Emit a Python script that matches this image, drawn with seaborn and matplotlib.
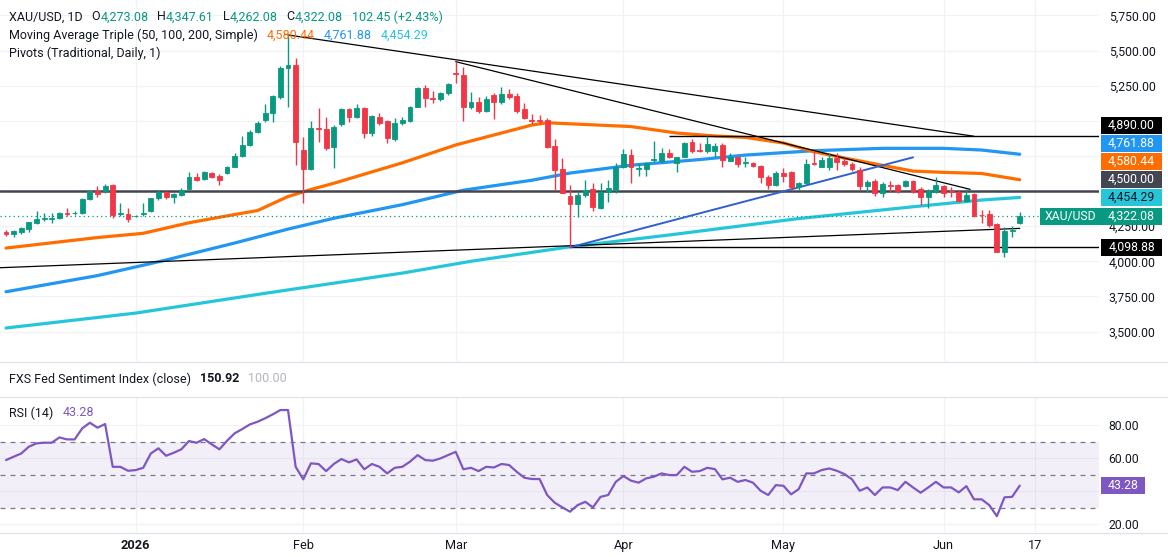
import numpy as np
import matplotlib
matplotlib.use("Agg")
import matplotlib.pyplot as plt
import matplotlib.transforms as mtransforms
from matplotlib.patches import Rectangle
from matplotlib.lines import Line2D
import seaborn as sns

# ---------------- data ----------------
# daily candles XAU/USD (bar 0 .. 133)
opens = [4206, 4194, 4210, 4229, 4274, 4301, 4303, 4306, 4343, 4341,
         4341, 4441, 4498, 4498, 4543, 4334, 4338, 4320, 4334, 4358,
         4448, 4493, 4459, 4474, 4516, 4602, 4583, 4630, 4609, 4626,
         4673, 4751, 4825, 4918, 5006, 5053, 5171, 5374, 5397, 4792,
         4655, 4951, 4941, 4811, 4977, 5082, 5029, 5089, 4911, 5029,
         4998, 4868, 4982, 4998, 5100, 5231, 5160, 5153, 5196, 5338,
         5326, 5096, 5136, 5072, 5184, 5136, 5191, 5179, 5082, 5006,
         5004, 5006, 4823, 4655, 4464, 4407, 4472, 4512, 4377, 4495,
         4507, 4669, 4756, 4657, 4655, 4719, 4716, 4768, 4701, 4744,
         4847, 4792, 4787, 4787, 4827, 4716, 4740, 4701, 4701, 4678,
         4598, 4543, 4630, 4637, 4526, 4559, 4697, 4673, 4673, 4737,
         4716, 4692, 4650, 4536, 4573, 4484, 4543, 4543, 4536, 4571,
         4512, 4455, 4495, 4536, 4500, 4495, 4431, 4479, 4331, 4336,
         4265, 4068, 4217, 4273.08]
highs = [4222, 4222, 4246, 4281, 4358, 4346, 4341, 4350, 4377, 4358,
         4448, 4502, 4536, 4550, 4550, 4412, 4377, 4327, 4412, 4452,
         4507, 4498, 4484, 4519, 4637, 4630, 4640, 4637, 4621, 4680,
         4768, 4892, 4934, 5001, 5119, 5184, 5390, 5611, 5445, 4887,
         5001, 5089, 5025, 4970, 5089, 5091, 5119, 5096, 5041, 5057,
         5006, 5018, 5029, 5102, 5243, 5255, 5214, 5207, 5271, 5421,
         5385, 5203, 5171, 5176, 5200, 5243, 5224, 5196, 5124, 5048,
         5041, 5018, 4868, 4733, 4543, 4495, 4578, 4555, 4555, 4578,
         4697, 4797, 4799, 4701, 4709, 4858, 4804, 4797, 4744, 4851,
         4868, 4840, 4892, 4840, 4840, 4773, 4749, 4740, 4709, 4685,
         4614, 4645, 4662, 4645, 4566, 4726, 4787, 4744, 4773, 4773,
         4733, 4709, 4669, 4578, 4583, 4566, 4573, 4550, 4578, 4578,
         4526, 4512, 4602, 4543, 4531, 4507, 4512, 4488, 4365, 4365,
         4270, 4246, 4251, 4347.61]
lows = [4180, 4175, 4194, 4210, 4263, 4289, 4274, 4299, 4322, 4327,
        4336, 4436, 4455, 4488, 4306, 4324, 4281, 4315, 4322, 4350,
        4436, 4441, 4412, 4467, 4512, 4573, 4578, 4590, 4543, 4621,
        4669, 4744, 4820, 4911, 4993, 4993, 5157, 5100, 4685, 4412,
        4650, 4851, 4792, 4662, 4963, 4993, 5018, 4875, 4892, 4970,
        4840, 4858, 4970, 4993, 5096, 5100, 5124, 5143, 5184, 5267,
        5001, 5082, 5057, 5065, 5011, 5119, 5153, 5053, 5011, 4977,
        4977, 4804, 4507, 4488, 4099, 4313, 4459, 4360, 4370, 4424,
        4488, 4662, 4559, 4607, 4607, 4709, 4701, 4733, 4637, 4740,
        4773, 4780, 4773, 4744, 4673, 4716, 4669, 4669, 4673, 4559,
        4512, 4536, 4566, 4507, 4507, 4550, 4685, 4669, 4650, 4650,
        4678, 4645, 4507, 4495, 4464, 4455, 4495, 4488, 4526, 4488,
        4400, 4377, 4488, 4455, 4455, 4424, 4424, 4317, 4270, 4246,
        4068, 4032, 4175, 4262.08]
closes = [4194, 4215, 4234, 4277, 4301, 4306, 4306, 4343, 4338, 4345,
          4443, 4498, 4479, 4536, 4329, 4343, 4303, 4323, 4343, 4448,
          4495, 4455, 4479, 4507, 4598, 4578, 4635, 4602, 4578, 4669,
          4749, 4825, 4918, 4982, 5053, 5176, 5374, 5397, 4851, 4655,
          4946, 4944, 4804, 4954, 5082, 5029, 5089, 4911, 5034, 4986,
          4875, 4982, 5006, 5096, 5235, 5160, 5153, 5196, 5262, 5331,
          5096, 5132, 5072, 5153, 5136, 5189, 5171, 5070, 5018, 5001,
          4998, 4815, 4650, 4488, 4405, 4472, 4507, 4384, 4495, 4519,
          4673, 4761, 4673, 4662, 4701, 4726, 4768, 4744, 4740, 4840,
          4787, 4787, 4835, 4820, 4721, 4740, 4692, 4709, 4678, 4598,
          4543, 4626, 4607, 4526, 4555, 4692, 4692, 4721, 4733, 4709,
          4692, 4655, 4536, 4566, 4484, 4550, 4538, 4502, 4573, 4495,
          4455, 4502, 4543, 4484, 4495, 4431, 4472, 4322, 4327, 4258,
          4068, 4217, 4222, 4322.08]

# moving averages, sampled at bar indices
ma50_bar = [0, 12, 18, 24, 30, 33, 37, 40, 43, 52, 59, 65, 69, 71, 82, 88,
            93, 97, 102, 106, 110, 115, 119, 123, 128, 133]
ma50_val = [4094, 4169, 4199, 4274, 4333, 4361, 4461, 4511, 4555, 4701, 4828,
            4913, 4970, 4986, 4959, 4913, 4892, 4882, 4842, 4780, 4735, 4683,
            4642, 4633, 4625, 4580.44]
ma100_bar = [0, 12, 21, 30, 37, 43, 52, 60, 69, 74, 82, 91, 97, 106, 115, 123,
             128, 133]
ma100_val = [3783, 3898, 4009, 4130, 4229, 4306, 4403, 4506, 4577, 4628, 4684,
             4724, 4756, 4787, 4804, 4804, 4792, 4761.88]
ma200_bar = [0, 17, 34, 52, 61, 74, 87, 104, 119, 128, 133]
ma200_val = [3525, 3631, 3772, 3916, 4000, 4103, 4187, 4304, 4388, 4436, 4454.29]

# drawn trend lines: (bar, price) end points
trend_upper = ([37, 127], [5611, 4890])
trend_mid = ([59, 126.5], [5421, 4512])
trend_blue = ([74, 119], [4099, 4740])
trend_support = ([-0.8, 133], [3954, 4234])
pivot_level = 4500.00
ray_high, ray_high_from = 4890.00, 87
ray_low, ray_low_from = 4098.88, 74

# RSI (14)
rsi = [58.8, 60.8, 62.8, 66.9, 68.9, 69.3, 69.3, 72.5, 71.3, 71.3,
       78.0, 81.4, 78.4, 80.6, 54.7, 54.7, 52.3, 52.7, 54.1, 62.8,
       65.9, 61.4, 63.2, 65.3, 70.3, 69.3, 71.5, 68.3, 65.3, 70.5,
       75.0, 77.6, 80.4, 82.0, 84.1, 86.5, 89.1, 89.1, 54.7, 47.1,
       56.8, 56.4, 52.1, 56.4, 59.4, 57.4, 59.2, 53.2, 56.4, 54.7,
       50.7, 54.1, 54.7, 57.8, 61.8, 58.8, 58.4, 59.8, 61.8, 63.8,
       53.2, 54.1, 52.1, 54.7, 54.3, 56.4, 55.8, 51.7, 48.1, 47.3,
       47.3, 37.6, 32.9, 30.1, 27.5, 31.5, 33.5, 30.1, 36.5, 37.6,
       45.6, 49.1, 46.3, 45.1, 47.7, 48.7, 50.7, 49.7, 49.7, 54.7,
       51.7, 52.1, 54.1, 53.3, 47.1, 48.1, 45.6, 46.7, 45.1, 40.2,
       37.6, 43.6, 43.2, 38.0, 41.2, 50.7, 50.7, 52.7, 53.7, 52.3,
       50.3, 47.1, 40.2, 42.2, 37.6, 42.2, 42.2, 40.6, 45.6, 42.2,
       39.0, 42.2, 45.6, 42.2, 42.2, 39.2, 43.0, 35.0, 35.0, 31.5,
       24.8, 36.2, 36.5, 43.28]

tick_pos = [17, 39, 59, 81, 102, 123, 135]
tick_labels = ["2026", "Feb", "Mar", "Apr", "May", "Jun", "17"]
price_ticks = [3500, 3750, 4000, 4250, 4500, 4750, 5000, 5250, 5500, 5750]
price_hidden = [4500, 4750, 5000]          # covered by the value tags
rsi_ticks = [20, 40, 60, 80]
rsi_hidden = [40]

# ---------------- style ----------------
UP, DOWN = "#089981", "#F23645"
TXT, GRID = "#131722", "#f0f2f6"
C50, C100, C200 = "#FF6D00", "#2196F3", "#26C6DA"
PURPLE = "#7E57C2"

sns.set_style("white")
plt.rcParams["font.family"] = ["Roboto", "DejaVu Sans"]

W, H = 1168, 557
RIGHT = 1099
fig = plt.figure(figsize=(W / 100, H / 100), dpi=100)
ax = fig.add_axes([0, 1 - 361 / H, RIGHT / W, 361 / H])
ax_rsi = fig.add_axes([0, 1 - 532 / H, RIGHT / W, (532 - 397) / H], sharex=ax)

xmin, xmax = -0.79, 143.4
ax.set_xlim(xmin, xmax)
ax.set_ylim(3290, 5860)
ax_rsi.set_ylim(15.2, 97)

for a in (ax, ax_rsi):
    for s in a.spines.values():
        s.set_visible(False)
    a.set_axisbelow(True)
    a.grid(True, color=GRID, lw=0.9)
    a.yaxis.tick_right()
    a.tick_params(axis="y", length=0, pad=7, labelsize=8.8, labelcolor=TXT)

ax.set_yticks(price_ticks)
ax.set_yticklabels(["" if v in price_hidden else f"{v:,.2f}" for v in price_ticks])
ax.tick_params(axis="x", bottom=False, labelbottom=False)

# ---------------- candles ----------------
bars = np.arange(len(opens))
o, c = np.array(opens), np.array(closes)
col = np.where(c >= o, UP, DOWN)
ax.vlines(bars, lows, highs, colors=col, lw=1, zorder=3)
ax.bar(bars, np.abs(c - o), bottom=np.minimum(o, c), width=0.64, color=col,
       edgecolor=col, lw=0.6, zorder=4)

# moving averages (seaborn)
sns.lineplot(x=ma200_bar, y=ma200_val, ax=ax, color=C200, lw=2.3, zorder=2)
sns.lineplot(x=ma100_bar, y=ma100_val, ax=ax, color=C100, lw=2.3, zorder=2)
sns.lineplot(x=ma50_bar, y=ma50_val, ax=ax, color=C50, lw=2.3, zorder=2)

# levels and trend lines
ax.axhline(pivot_level, color="#434651", lw=1.8, zorder=2.5)
ax.hlines(ray_high, ray_high_from, xmax, color="black", lw=1, zorder=2.6)
ax.hlines(ray_low, ray_low_from, xmax, color="black", lw=1, zorder=2.6)
ax.plot(*trend_upper, color="black", lw=0.9, zorder=2.6)
ax.plot(*trend_mid, color="black", lw=0.9, zorder=2.6)
ax.plot(*trend_support, color="black", lw=0.9, zorder=2.6)
ax.plot(*trend_blue, color="#2F5FD0", lw=1.4, zorder=2.6)
ax.axhline(closes[-1], color=UP, lw=0.9, ls=(0, (1, 2.5)), zorder=2.4)

# ---------------- RSI pane ----------------
ax_rsi.axhspan(30, 70, color=PURPLE, alpha=0.09, lw=0)
for lvl in (70, 50, 30):
    ax_rsi.axhline(lvl, color="#787B86", lw=0.9, ls=(0, (4, 4)))
sns.lineplot(x=bars, y=rsi, ax=ax_rsi, color=PURPLE, lw=1.6, zorder=3)
ax_rsi.set_yticks(rsi_ticks)
ax_rsi.set_yticklabels(["" if v in rsi_hidden else f"{v:.2f}" for v in rsi_ticks])
ax_rsi.set_xticks(tick_pos)
ax_rsi.set_xticklabels(tick_labels)
ax_rsi.tick_params(axis="x", length=0, pad=5, labelsize=9.2, labelcolor=TXT)
ax_rsi.get_xticklabels()[0].set_fontweight("bold")
for a in (ax, ax_rsi):
    a.set_xlabel("")
    a.set_ylabel("")

# pane separators
for ypx in (361.5, 396.5, 532.5):
    fig.add_artist(Line2D([0, 1], [1 - ypx / H] * 2, color="#e0e3eb", lw=1,
                          transform=fig.transFigure))

# ---------------- text rows ----------------
renderer = fig.canvas.get_renderer()


def put_row(y_px, pieces, size=9.0, x0=9):
    x = x0
    for txt, color, weight, gap in pieces:
        t = fig.text(x / W, 1 - y_px / H, txt, fontsize=size, color=color,
                     fontweight=weight, va="center", ha="left")
        x += t.get_window_extent(renderer).width + gap


put_row(17, [("XAU/USD, 1D", TXT, "normal", 9),
             ("O", TXT, "normal", 0), ("4,273.08", UP, "normal", 9),
             ("H", TXT, "normal", 0), ("4,347.61", UP, "normal", 9),
             ("L", TXT, "normal", 0), ("4,262.08", UP, "normal", 9),
             ("C", TXT, "normal", 0), ("4,322.08", UP, "normal", 9),
             ("102.45 (+2.43%)", UP, "normal", 0)])
put_row(35, [("Moving Average Triple (50, 100, 200, Simple)", TXT, "normal", 9),
             ("4,580.44", C50, "normal", 9), ("4,761.88", C100, "normal", 9),
             ("4,454.29", C200, "normal", 0)])
put_row(53, [("Pivots (Traditional, Daily, 1)", TXT, "normal", 0)])
put_row(379, [("FXS Fed Sentiment Index (close)", TXT, "normal", 9),
              ("150.92", TXT, "bold", 9), ("100.00", "#b2b5be", "normal", 0)])
put_row(413, [("RSI (14)", TXT, "normal", 9), ("43.28", PURPLE, "normal", 0)])


# ---------------- right-hand value tags ----------------
def tag(axis, ypos, txt, bg, fg, x0=1101, x1=1162, hpx=17):
    y0, y1 = axis.get_ylim()
    upp = (y1 - y0) / axis.get_window_extent(renderer).height
    tr = mtransforms.blended_transform_factory(fig.transFigure, axis.transData)
    fig.add_artist(Rectangle((x0 / W, ypos - hpx / 2 * upp), (x1 - x0) / W,
                             hpx * upp, transform=tr, color=bg, lw=0, zorder=5))
    fig.text((x0 + x1) / 2 / W, ypos, txt, transform=tr, ha="center",
             va="center", color=fg, fontsize=8.8, zorder=6)


tags = [(4098.88, "black", "white"), (closes[-1], UP, "white"),
        (4454.29, C200, TXT), (pivot_level, "#434651", "white"),
        (4580.44, C50, "white"), (4761.88, C100, "white"),
        (ray_high, "black", "white")]
step = 18 * (5860 - 3290) / 361
prev = -1e9
tag_pos = {}
for val, bg, fg in tags:
    pos = max(val, prev + step)
    tag(ax, pos, f"{val:,.2f}", bg, fg)
    tag_pos[val] = pos
    prev = pos

# symbol tag next to last price
yl = tag_pos[closes[-1]]
tr = mtransforms.blended_transform_factory(fig.transFigure, ax.transData)
upp = (5860 - 3290) / 361
fig.add_artist(Rectangle((1040 / W, yl - 8.5 * upp), 62 / W, 17 * upp,
                         transform=tr, color=UP, lw=0, zorder=5))
fig.text(1045 / W, yl, "XAU/USD", transform=tr, ha="left", va="center",
         color="white", fontsize=8.8, zorder=6)

tag(ax_rsi, rsi[-1], "43.28", PURPLE, "white", x0=1101, x1=1145)

fig.savefig("out.png", dpi=100, facecolor="white")
